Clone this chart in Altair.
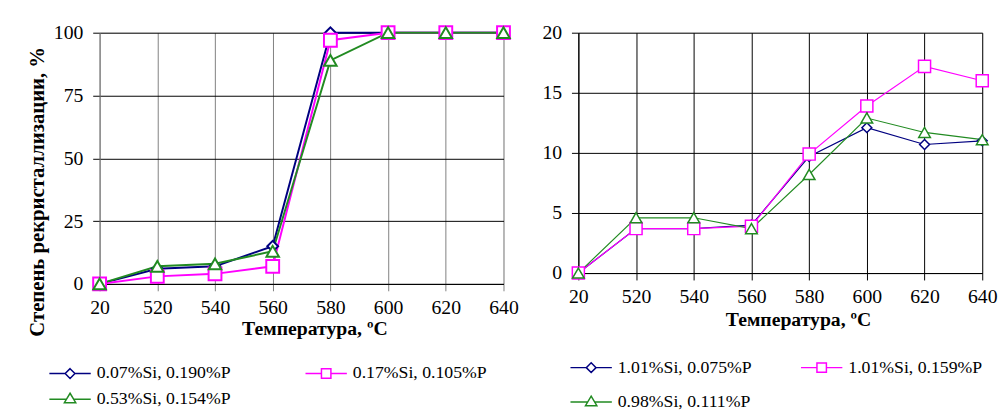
import altair as alt
import pandas as pd

# ---------------- data ----------------
temps = ["20", "520", "540", "560", "580", "600", "620", "640"]

left_series = ["0.07%Si, 0.190%P", "0.17%Si, 0.105%P", "0.53%Si, 0.154%P"]
left_s1 = [0, 6, 7, 15, 100, 100, 100, 100]
left_s2 = [0, 3, 4, 7, 97, 100, 100, 100]
left_s3 = [0, 7, 8, 13, 89, 100, 100, 100]

right_series = ["1.01%Si, 0.075%P", "1.01%Si, 0.159%P", "0.98%Si, 0.111%P"]
right_s1 = [0, 3.7, 3.7, 4.0, 9.7, 12.1, 10.7, 11.0]
right_s2 = [0, 3.7, 3.7, 3.9, 9.9, 13.9, 17.2, 16.0]
right_s3 = [0, 4.6, 4.6, 3.7, 8.2, 12.9, 11.7, 11.1]

left_ticks = [0, 25, 50, 75, 100]
right_ticks = [0, 5, 10, 15, 20]

colors = ["#000080", "#FF00FF", "#228B22"]
shapes = ["diamond", "square", "triangle-up"]

FONT = "Liberation Serif"
x_title = "Температура, ºC"
y_title = "Степень рекристаллизации, %"


def long_table(names, series):
    rows = []
    for name, vals in zip(names, series):
        for t, v in zip(temps, vals):
            rows.append({"temp": t, "value": v, "series": name})
    return pd.DataFrame(rows)


# legend symbols: a line with an open marker in the middle (unit = 8 px)
def fmt(v):
    return f"{v:.3f}"


cx = 1.625
line_l, line_r = -1.0, 4.25
h = 0.62
p_diamond = (f"M{fmt(line_l)},0L{fmt(cx-h)},0M{fmt(cx+h)},0L{fmt(line_r)},0"
             f"M{fmt(cx)},{fmt(-h)}L{fmt(cx+h)},0L{fmt(cx)},{fmt(h)}L{fmt(cx-h)},0Z")
hs = 0.6
p_square = (f"M{fmt(line_l)},0L{fmt(cx-hs)},0M{fmt(cx+hs)},0L{fmt(line_r)},0"
            f"M{fmt(cx-hs)},{fmt(-hs)}L{fmt(cx+hs)},{fmt(-hs)}L{fmt(cx+hs)},{fmt(hs)}L{fmt(cx-hs)},{fmt(hs)}Z")
p_tri = (f"M{fmt(line_l)},0L{fmt(cx-0.45)},0M{fmt(cx+0.45)},0L{fmt(line_r)},0"
         f"M{fmt(cx)},-0.75L{fmt(cx+0.72)},0.45L{fmt(cx-0.72)},0.45Z")
legend_paths = [p_diamond, p_square, p_tri]


def legend_expr(names):
    expr = f"'{legend_paths[-1]}'"
    for n, p in reversed(list(zip(names[:-1], legend_paths[:-1]))):
        expr = f"datum.value === '{n}' ? '{p}' : ({expr})"
    return expr


def panel(names, series, ticks, width, height, xgrid_color, ydomain_color,
          line_w, pt_w, sizes, show_ytitle, legend_x, legend_y, col_pad, row_pad,
          ytitle_y, xtitle_dx, xlabel_pad, xtitle_pad):
    df = long_table(names, series)
    x = alt.X(
        "temp:N", sort=temps,
        scale=alt.Scale(type="point", padding=0, domain=temps),
        axis=alt.Axis(
            title=x_title, labelAngle=0, labelFont=FONT, labelFontSize=20,
            labelColor="black", labelPadding=xlabel_pad, tickSize=7,
            tickColor=xgrid_color, grid=True, gridColor=xgrid_color, gridWidth=1,
            domainColor="black", domainWidth=1,
            titleFont=FONT, titleFontSize=20, titleFontWeight="bold",
            titleColor="black", titlePadding=xtitle_pad, titleX=width / 2 + xtitle_dx,
        ),
    )
    yaxis_kw = dict(
        values=ticks, labelFont=FONT, labelFontSize=20, labelColor="black",
        labelPadding=10, tickSize=7, tickColor="black", grid=True,
        gridColor="black", gridWidth=1, domainColor=ydomain_color, domainWidth=1,
    )
    if show_ytitle:
        yaxis_kw.update(title=y_title, titleFont=FONT, titleFontSize=21,
                        titleFontWeight="bold", titleColor="black",
                        titlePadding=6, titleY=ytitle_y)
    else:
        yaxis_kw.update(title=None)
    y = alt.Y("value:Q",
              scale=alt.Scale(domain=[ticks[0], ticks[-1]], nice=False, zero=False),
              axis=alt.Axis(**yaxis_kw))
    color = alt.Color(
        "series:N",
        scale=alt.Scale(domain=names, range=colors),
        legend=alt.Legend(
            title=None, orient="none", legendX=legend_x, legendY=legend_y,
            columns=2, direction="horizontal",
            columnPadding=col_pad, rowPadding=row_pad, padding=0,
            symbolType=alt.ExprRef(expr=legend_expr(names)),
            symbolSize=256, symbolStrokeWidth=1.5, symbolFillColor="white",
            labelFont=FONT, labelFontSize=18, labelColor="black", labelOffset=31,
            labelLimit=400,
        ),
    )
    base = alt.Chart(df)
    layers = [base.mark_line(strokeWidth=line_w, opacity=1).encode(
        x=x, y=y, color=color, detail="series:N")]
    for name, col, shp, sz in zip(names, colors, shapes, sizes):
        layers.append(
            base.transform_filter(alt.datum.series == name)
            .mark_point(filled=False, fill="white", stroke=col, shape=shp,
                        size=sz, strokeWidth=pt_w, opacity=1)
            .encode(x=x, y=y)
        )
    return alt.layer(*layers).properties(width=width, height=height)


left = panel(left_series, [left_s1, left_s2, left_s3], left_ticks, 410, 255,
             "#808080", "#808080", 2, 2, [120, 170, 160], True,
             -52, 337, 72, 8, 161, 13, 7, 1)
right = panel(right_series, [right_s1, right_s2, right_s3], right_ticks, 410, 244,
              "black", "black", 1.2, 1.5, [100, 150, 140], False,
              -9, 331, 46, 17, 122, 18, 7, 3)

chart = alt.hconcat(left, right, spacing=22).resolve_scale(
    color="independent", x="independent", y="independent",
).resolve_legend(color="independent").properties(
    padding={"left": 18, "top": 10, "right": 0, "bottom": 0},
).configure_view(stroke=None).configure(background="white")

chart.save("out.html", embed_options={"renderer": "svg", "actions": False})
